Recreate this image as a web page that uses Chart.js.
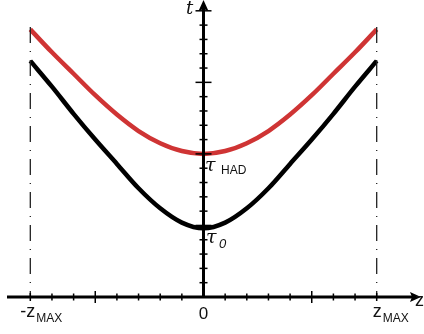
<!DOCTYPE html>
<html>
<head>
<meta charset="utf-8">
<script src="https://cdn.jsdelivr.net/npm/chart.js@4/dist/chart.umd.min.js"></script>
<style>
  body { margin: 0; background: #fff; }
</style>
</head>
<body>
<canvas id="chart" width="424" height="334"></canvas>
<script>
// positions along z (-zMAX .. zMAX)
var zValues = [-8, -7, -6, -5, -4, -3, -2, -1, 0, 1, 2, 3, 4, 5, 6, 7, 8];
// black curve (tau_0)
var tTau0 = [16.5, 14.7, 12.8, 11.0, 9.3, 7.6, 6.2, 5.2, 4.8, 5.2, 6.2, 7.6, 9.3, 11.0, 12.8, 14.7, 16.5];
// red curve (tau_HAD)
var tTauHad = [18.7, 17.1, 15.6, 14.1, 12.75, 11.6, 10.75, 10.2, 10.0, 10.2, 10.75, 11.6, 12.75, 14.1, 15.6, 17.1, 18.7];

var zMax = 8;
var zTicks = [-8, -7, -6, -5, -4, -3, -2, -1, 1, 2, 3, 4, 5, 6, 7, 8];
var zMajor = [-5, 5];
var tTicks = [1, 2, 3, 4, 5, 6, 7, 8, 9, 10, 11, 12, 13, 14, 15, 16, 17, 18, 19, 20];
var tMajor = [5, 10, 15, 20];

function pts(ys) {
    return zValues.map(function (z, i) { return {x: z, y: ys[i]}; });
}

var SANS = '"Liberation Sans", Arial, sans-serif';

// hand drawn axes, ticks and labels
var axesPlugin = {
    id: 'axes',
    afterDatasetsDraw: function (chart) {
        var ctx = chart.ctx;
        var xs = chart.scales.x, ys = chart.scales.y;
        var x0 = xs.getPixelForValue(0), y0 = ys.getPixelForValue(0);
        var xL = xs.getPixelForValue(-zMax), xR = xs.getPixelForValue(zMax);
        ctx.save();

        // dash-dot lines at +-zMAX
        ctx.strokeStyle = '#222';
        ctx.lineWidth = 1.3;
        ctx.setLineDash([16, 8, 1, 8]);
        [xL, xR].forEach(function (px) {
            ctx.beginPath();
            ctx.moveTo(px, 27);
            ctx.lineTo(px, y0);
            ctx.stroke();
        });
        ctx.setLineDash([]);

        ctx.strokeStyle = '#000';
        ctx.fillStyle = '#000';
        ctx.lineWidth = 3;
        // horizontal axis
        ctx.beginPath();
        ctx.moveTo(7, y0);
        ctx.lineTo(414, y0);
        ctx.stroke();
        ctx.beginPath();
        ctx.moveTo(421, y0);
        ctx.lineTo(410, y0 - 5);
        ctx.lineTo(412, y0);
        ctx.lineTo(410, y0 + 5);
        ctx.closePath();
        ctx.fill();
        // vertical axis
        ctx.beginPath();
        ctx.moveTo(x0, y0);
        ctx.lineTo(x0, 8);
        ctx.stroke();
        ctx.beginPath();
        ctx.moveTo(x0, 0);
        ctx.lineTo(x0 - 5, 11);
        ctx.lineTo(x0, 9);
        ctx.lineTo(x0 + 5, 11);
        ctx.closePath();
        ctx.fill();

        ctx.lineWidth = 1.5;
        zTicks.forEach(function (z) {
            var px = xs.getPixelForValue(z);
            var h = zMajor.indexOf(z) >= 0 ? 6 : 3.5;
            if (Math.abs(z) === zMax) h = 4;
            ctx.beginPath();
            ctx.moveTo(px, y0 - h);
            ctx.lineTo(px, y0 + h);
            ctx.stroke();
        });
        tTicks.forEach(function (t) {
            var py = ys.getPixelForValue(t);
            var w = tMajor.indexOf(t) >= 0 ? 8 : 4;
            ctx.beginPath();
            ctx.moveTo(x0 - w, py);
            ctx.lineTo(x0 + w, py);
            ctx.stroke();
        });

        // labels
        ctx.fillStyle = '#111';
        ctx.textBaseline = 'alphabetic';
        ctx.font = '18px ' + SANS;
        ctx.textAlign = 'right';
        ctx.fillText('-z', xL + 5, 317);
        ctx.textAlign = 'left';
        ctx.fillText('z', xR - 4, 317);
        ctx.fillText('z', 415, 306);
        ctx.font = '12px ' + SANS;
        ctx.fillText('MAX', xL + 6, 322);
        ctx.fillText('MAX', xR + 6, 322);
        ctx.font = '17px ' + SANS;
        ctx.textAlign = 'center';
        ctx.fillText('0', x0, 319);
        ctx.textAlign = 'left';
        ctx.font = 'italic 18px "DejaVu Serif", serif';
        ctx.fillText('t', 186, 14);
        ctx.font = 'italic 19px "DejaVu Serif", serif';
        ctx.fillText('\u03c4', 205, 171);
        ctx.fillText('\u03c4', 206, 243);
        ctx.font = '12px ' + SANS;
        ctx.fillText('HAD', 221, 174);
        ctx.font = 'italic 13px ' + SANS;
        ctx.fillText('0', 219, 248);
        ctx.restore();
    }
};

var ctx = document.getElementById('chart').getContext('2d');
new Chart(ctx, {
    type: 'line',
    data: {
        datasets: [
            {
                label: 'tau_HAD',
                data: pts(tTauHad),
                borderColor: '#cf3434',
                borderWidth: 4.5,
                pointRadius: 0,
                cubicInterpolationMode: 'monotone',
                fill: false
            },
            {
                label: 'tau_0',
                data: pts(tTau0),
                borderColor: '#000',
                borderWidth: 4.5,
                pointRadius: 0,
                cubicInterpolationMode: 'monotone',
                fill: false
            }
        ]
    },
    plugins: [axesPlugin],
    options: {
        responsive: false,
        animation: false,
        layout: {padding: 0},
        plugins: {legend: {display: false}, tooltip: {enabled: false}},
        scales: {
            x: {type: 'linear', min: -9.40, max: 10.185, display: false},
            y: {type: 'linear', min: -2.586, max: 20.755, display: false}
        }
    }
});
</script>
</body>
</html>
